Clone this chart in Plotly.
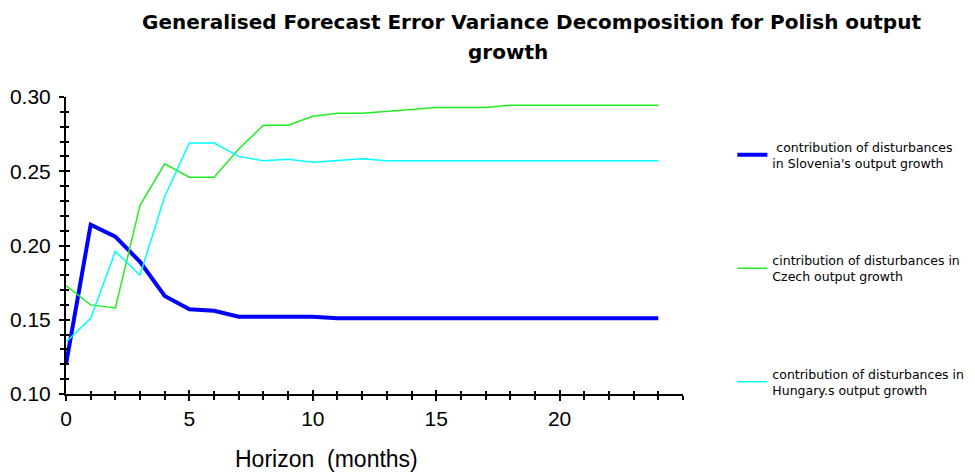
import plotly.graph_objects as go

horizon = list(range(0, 25))
slovenia = [0.120, 0.214, 0.206, 0.189, 0.166, 0.157, 0.156, 0.152, 0.152, 0.152, 0.152,
            0.151, 0.151, 0.151, 0.151, 0.151, 0.151, 0.151, 0.151, 0.151, 0.151, 0.151,
            0.151, 0.151, 0.151]
czech = [0.173, 0.160, 0.158, 0.227, 0.255, 0.246, 0.246, 0.265, 0.281, 0.281, 0.287,
         0.289, 0.289, 0.290, 0.2915, 0.293, 0.293, 0.293, 0.2945, 0.2945, 0.2945, 0.2945,
         0.2945, 0.2945, 0.2945]
hungary = [0.135, 0.151, 0.196, 0.180, 0.233, 0.269, 0.269, 0.260, 0.257, 0.258, 0.256,
           0.257, 0.2585, 0.257, 0.257, 0.257, 0.257, 0.257, 0.257, 0.257, 0.257, 0.257,
           0.257, 0.257, 0.257]

names = [
    " contribution of disturbances<br>in Slovenia's output growth",
    "cintribution of disturbances in<br>Czech output growth",
    "contribution of disturbances in<br>Hungary.s output growth",
]
colors = ["#0000ff", "#22ee22", "#00ffff"]
widths = [4, 1.5, 1.5]

title_lines = ["Generalised Forecast Error Variance Decomposition for Polish output", "growth"]
x_title = "Horizon  (months)"

fig = go.Figure()
for i, (ys, nm) in enumerate(zip([slovenia, czech, hungary], names)):
    fig.add_trace(go.Scatter(x=horizon, y=ys, mode="lines", name=nm,
                             legendgroup=str(i),
                             line=dict(color=colors[i], width=widths[i])))

# invisible trace on overlay axes to draw inside ticks (ticks crossing axis)
fig.add_trace(go.Scatter(x=[0], y=[0.1], xaxis="x2", yaxis="y2", mode="markers",
                         marker=dict(opacity=0), showlegend=False, hoverinfo="skip"))

title_font = dict(family="DejaVu Sans", size=20, color="black", weight="bold")

fig.update_layout(
    width=967, height=466,
    paper_bgcolor="white", plot_bgcolor="white",
    margin=dict(l=58, r=292, t=89, b=80, autoexpand=False),
    font=dict(family="Liberation Sans, Arial", color="black"),
    legend=dict(x=1.080, xanchor="left", y=0.882, yanchor="top",
                tracegroupgap=78, font=dict(family="DejaVu Sans", size=12.5, color="black"),
                bgcolor="rgba(0,0,0,0)"),
    annotations=[
        dict(text=title_lines[0], xref="paper", yref="paper", x=0.7537, y=1.2525,
             xanchor="center", yanchor="middle", showarrow=False, font=title_font),
        dict(text=title_lines[1], xref="paper", yref="paper", x=0.7164, y=1.1515,
             xanchor="center", yanchor="middle", showarrow=False, font=title_font),
        dict(text=x_title, xref="paper", yref="paper", x=0.423, y=-0.219,
             xanchor="center", yanchor="middle", showarrow=False,
             font=dict(size=23, color="black")),
    ],
    xaxis=dict(range=[0, 25], tickvals=[0, 5, 10, 15, 20], showgrid=False, zeroline=False,
               automargin=False,
               showline=True, linecolor="black", linewidth=2, ticks="outside", ticklen=5,
               tickwidth=2, tickcolor="black", ticklabelstandoff=0,
               minor=dict(dtick=1, ticks="outside", ticklen=4, tickwidth=1.5, tickcolor="black"),
               tickfont=dict(size=21)),
    yaxis=dict(range=[0.10, 0.30], tickvals=[0.10, 0.15, 0.20, 0.25, 0.30],
               ticktext=["0.10", "0.15", "0.20", "0.25", "0.30"],
               showgrid=False, zeroline=False, automargin=False,
               showline=True, linecolor="black", linewidth=2, ticks="outside", ticklen=5,
               tickwidth=2, tickcolor="black", ticklabelstandoff=4,
               minor=dict(dtick=0.01, ticks="outside", ticklen=4, tickwidth=1.5, tickcolor="black"),
               tickfont=dict(size=21)),
    xaxis2=dict(range=[0, 25], overlaying="x", anchor="y", showgrid=False, zeroline=False,
                automargin=False,
                showticklabels=False, tickvals=[0, 5, 10, 15, 20, 25], ticks="inside", ticklen=4,
                tickwidth=2, tickcolor="black",
                minor=dict(dtick=1, ticks="inside", ticklen=3, tickwidth=1.5, tickcolor="black")),
    yaxis2=dict(range=[0.10, 0.30], overlaying="y", anchor="x", showgrid=False, zeroline=False,
                automargin=False,
                showticklabels=False, tickvals=[0.10, 0.15, 0.20, 0.25, 0.30], ticks="inside",
                ticklen=4, tickwidth=2, tickcolor="black",
                minor=dict(dtick=0.01, ticks="inside", ticklen=3, tickwidth=1.5, tickcolor="black")),
)

fig.write_html("out.html")
